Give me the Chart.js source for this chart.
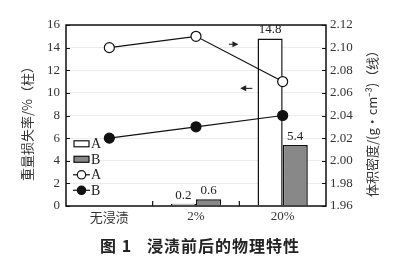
<!DOCTYPE html>
<html>
<head>
    <meta charset="utf-8">
    <title>浸渍前后的物理特性</title>
    <script src="https://cdn.jsdelivr.net/npm/chart.js"></script>
    <style>
        body { margin: 0; background: #fff; }
        #wrap { width: 393px; height: 271px; }
    </style>
</head>
<body>
<div id="wrap"><canvas id="myChart" width="393" height="271"></canvas></div>
<script>
    // 分類與數據
    var categories = ['无浸渍', '2%', '20%'];
    var lossA = [null, 0.2, 14.8];      // 重量损失率 A（柱）
    var lossB = [null, 0.6, 5.4];       // 重量损失率 B（柱）
    var densityA = [2.10, 2.11, 2.07];  // 体积密度 A（线）
    var densityB = [2.02, 2.03, 2.04];  // 体积密度 B（线）
    var leftTicks = [0, 2, 4, 6, 8, 10, 12, 14, 16];
    var rightTicks = [1.96, 1.98, 2.00, 2.02, 2.04, 2.06, 2.08, 2.10, 2.12];

    var serif = '"Liberation Serif", "DejaVu Serif", serif';
    var cjk = '"Noto Sans CJK SC", sans-serif';

    // 邊框、刻度、標註、圖例、標題
    var decorPlugin = {
        id: 'decor',
        afterDatasetsDraw: function (chart) {
            var c = chart.ctx, a = chart.chartArea;
            var sx = chart.scales.x, sy = chart.scales.y, sy1 = chart.scales.y1;
            c.save();
            c.strokeStyle = '#111';
            c.lineWidth = 1.5;
            c.strokeRect(a.left, a.top, a.right - a.left, a.bottom - a.top);

            // 內向刻度
            c.lineWidth = 1.2;
            c.beginPath();
            leftTicks.forEach(function (v) {
                var y = Math.round(sy.getPixelForValue(v)) + 0.5;
                c.moveTo(a.left, y); c.lineTo(a.left + 4, y);
            });
            rightTicks.forEach(function (v) {
                var y = Math.round(sy1.getPixelForValue(v)) + 0.5;
                c.moveTo(a.right, y); c.lineTo(a.right - 4, y);
            });
            for (var i = 1; i < categories.length; i++) {
                var x = (sx.getPixelForValue(i - 1) + sx.getPixelForValue(i)) / 2;
                c.moveTo(x, a.bottom); c.lineTo(x, a.bottom - 5);
            }
            c.stroke();

            // 柱頂數值
            c.fillStyle = '#222';
            c.font = '13px ' + serif;
            c.textAlign = 'center';
            c.textBaseline = 'bottom';
            chart.data.datasets.forEach(function (ds, di) {
                if (ds.type !== 'bar') return;
                var meta = chart.getDatasetMeta(di);
                meta.data.forEach(function (bar, i) {
                    if (ds.data[i] == null) return;
                    c.fillText(ds.data[i].toFixed(1), bar.x, bar.y - 2);
                });
            });

            // 箭頭
            function arrow(x1, x2, y) {
                var dir = x2 > x1 ? 1 : -1;
                c.beginPath();
                c.moveTo(x1, y); c.lineTo(x2 - dir * 5, y);
                c.stroke();
                c.beginPath();
                c.moveTo(x2, y);
                c.lineTo(x2 - dir * 6, y - 3);
                c.lineTo(x2 - dir * 6, y + 3);
                c.closePath();
                c.fill();
            }
            c.lineWidth = 1;
            var cw = sx.getPixelForValue(2) - sx.getPixelForValue(1);
            var x1 = sx.getPixelForValue(1);
            arrow(x1 + cw * 0.38, x1 + cw * 0.49, sy1.getPixelForValue(2.103));
            arrow(x1 + cw * 0.65, x1 + cw * 0.51, sy.getPixelForValue(10.4));

            // 圖例
            var lx = a.left + 8, ly = sy.getPixelForValue(5.5);
            var gap = 15.5;
            c.font = '14px ' + serif;
            c.textAlign = 'left';
            c.textBaseline = 'middle';
            chart.data.datasets.slice().sort(function (p, q) { return p.legendOrder - q.legendOrder; })
                .forEach(function (ds, k) {
                    var y = ly + k * gap;
                    c.strokeStyle = '#111';
                    c.lineWidth = 1.2;
                    if (ds.type === 'bar') {
                        c.fillStyle = ds.backgroundColor;
                        c.fillRect(lx, y - 3, 15, 6);
                        c.strokeRect(lx, y - 3, 15, 6);
                    } else {
                        c.beginPath();
                        c.moveTo(lx - 1, y); c.lineTo(lx + 16, y);
                        c.stroke();
                        c.beginPath();
                        c.arc(lx + 7.5, y, ds.pointRadius - 0.8, 0, Math.PI * 2);
                        c.fillStyle = ds.pointBackgroundColor;
                        c.fill();
                        c.stroke();
                    }
                    c.fillStyle = '#222';
                    c.fillText(ds.label, lx + 17, y + 1);
                });

            // 軸標題
            c.fillStyle = '#333';
            c.font = '13px ' + cjk;
            c.textAlign = 'center';
            c.textBaseline = 'middle';
            var midY = (a.top + a.bottom) / 2 + 5;
            c.save();
            c.translate(27, midY);
            c.rotate(-Math.PI / 2);
            c.fillText('重量损失率/%（柱）', 0, 0);
            c.restore();
            c.save();
            c.translate(372, midY);
            c.rotate(-Math.PI / 2);
            c.fillText('体积密度/(g·cm⁻³)（线）', 0, 0);
            c.restore();

            // 圖題
            c.fillStyle = '#222';
            c.font = 'bold 16px ' + cjk;
            c.textAlign = 'left';
            c.letterSpacing = '1px';
            c.fillText('图 1', 100, 246);
            c.fillText('浸渍前后的物理特性', 147, 246);
            c.restore();
        }
    };

    var ctx = document.getElementById('myChart').getContext('2d');
    var myChart = new Chart(ctx, {
        data: {
            labels: categories,
            datasets: [
                {
                    type: 'line', label: 'A', data: densityA, yAxisID: 'y1', order: 0, legendOrder: 2,
                    borderColor: '#111', borderWidth: 1.2, pointRadius: 5,
                    pointBackgroundColor: '#fff', pointBorderColor: '#111', pointBorderWidth: 1.2
                },
                {
                    type: 'line', label: 'B', data: densityB, yAxisID: 'y1', order: 0, legendOrder: 3,
                    borderColor: '#111', borderWidth: 1.2, pointRadius: 5,
                    pointBackgroundColor: '#111', pointBorderColor: '#111', pointBorderWidth: 1.2
                },
                {
                    type: 'bar', label: 'A', data: lossA, yAxisID: 'y', order: 1, legendOrder: 0,
                    backgroundColor: '#fff', borderColor: '#111', borderWidth: 1.5,
                    categoryPercentage: 0.58, barPercentage: 1.0
                },
                {
                    type: 'bar', label: 'B', data: lossB, yAxisID: 'y', order: 1, legendOrder: 1,
                    backgroundColor: '#888', borderColor: '#111', borderWidth: 1.5,
                    categoryPercentage: 0.58, barPercentage: 1.0
                }
            ]
        },
        options: {
            responsive: false,
            animation: false,
            layout: { padding: { top: 25, left: 0, right: 0, bottom: 0 } },
            plugins: { legend: { display: false }, tooltip: { enabled: false } },
            scales: {
                x: {
                    grid: { display: false, drawTicks: false },
                    border: { display: false },
                    ticks: {
                        padding: 3, color: '#333',
                        font: function (c) { return c.index === 0 ? { family: cjk, size: 13 } : { family: serif, size: 13 }; }
                    },
                    afterFit: function (s) { s.height = 65; }
                },
                y: {
                    position: 'left', min: 0, max: 16,
                    grid: { color: '#ececec', lineWidth: 1, drawTicks: false },
                    border: { display: false },
                    ticks: { stepSize: 2, padding: 6, color: '#333', font: { family: serif, size: 13 } },
                    afterFit: function (s) { s.width = 66; }
                },
                y1: {
                    position: 'right', min: 1.96, max: 2.12,
                    grid: { display: false, drawTicks: false },
                    border: { display: false },
                    ticks: {
                        stepSize: 0.02, padding: 4, color: '#333', font: { family: serif, size: 13 },
                        callback: function (v) { return v.toFixed(2); }
                    },
                    afterFit: function (s) { s.width = 67; }
                }
            }
        },
        plugins: [decorPlugin]
    });
</script>
</body>
</html>
